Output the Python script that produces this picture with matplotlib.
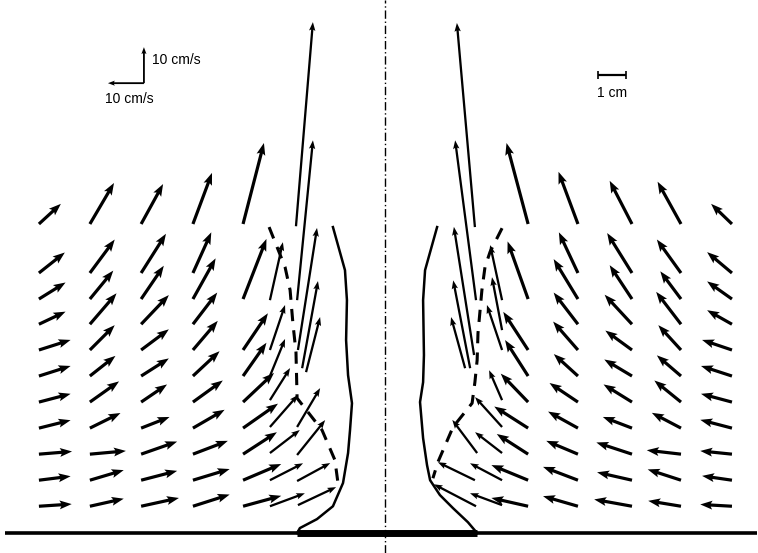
"""Velocity vector field around an impinging jet (recreated from a scanned figure)."""

import matplotlib

matplotlib.use("Agg")
import matplotlib.pyplot as plt
import numpy as np

# --- measuring grid (cm from the jet axis, cm above the wall) -----------------
grid_rows_y = [11.04, 9.29, 8.36, 7.46, 6.54, 5.61, 4.68, 3.75, 2.82, 1.89, 0.96]
left_cols_x = [-12.36, -10.54, -8.71, -6.86, -5.07]
right_cols_x = [5.11, 6.89, 8.82, 10.57, 12.39]

nan = np.nan
# velocity components in cm/s; one list per grid row (top -> bottom)
left_u = [
    [6.1, 6.7, 6.1, 5.3, 5.8],
    [7.2, 6.9, 6.9, 5.1, nan],
    [7.4, 6.5, 6.3, 6.3, 6.5],
    [7.4, 7.4, 7.7, 6.75, nan],
    [8.8, 6.9, 7.7, 6.9, 6.9],
    [8.8, 7.1, 7.7, 7.4, 6.5],
    [8.8, 8.1, 7.2, 8.3, 8.6],
    [8.8, 8.5, 7.9, 8.8, 9.7],
    [9.2, 10.0, 10.0, 9.7, 9.4],
    [8.8, 9.4, 10.0, 10.2, 10.6],
    [9.1, 9.4, 10.5, 10.2, 10.6],
]
left_v = [
    [5.6, 11.4, 11.1, 14.2, 22.5],
    [5.7, 9.3, 10.9, 11.3, nan],
    [4.6, 7.9, 9.25, 11.3, 16.7],
    [3.5, 8.6, 8.1, 8.8, nan],
    [2.8, 6.9, 5.75, 8.1, 10.2],
    [2.8, 5.6, 4.9, 6.9, 9.25],
    [2.3, 5.75, 4.9, 6.0, 8.1],
    [2.2, 4.2, 3.1, 5.1, 6.8],
    [0.75, 0.9, 3.5, 3.7, 6.1],
    [1.1, 2.8, 2.6, 3.1, 4.5],
    [0.6, 2.1, 2.3, 3.25, 2.9],
]
right_u = [
    [-6.0, -5.4, -6.2, -6.5, -5.8],
    [nan, -5.3, -6.9, -6.7, -6.9],
    [-5.7, -6.75, -6.2, -5.75, -6.9],
    [nan, -6.75, -7.6, -6.9, -6.9],
    [-6.9, -6.9, -7.4, -6.3, -8.3],
    [-6.4, -6.7, -7.7, -6.7, -8.6],
    [-7.6, -7.9, -7.9, -7.4, -8.6],
    [-9.4, -8.3, -8.1, -8.1, -8.8],
    [-8.7, -8.8, -9.9, -9.5, -8.8],
    [-10.2, -9.7, -9.7, -9.25, -8.3],
    [-10.2, -9.7, -10.5, -9.1, -8.8],
]
right_v = [
    [22.5, 14.5, 12.0, 11.75, 5.6],
    [nan, 11.3, 11.1, 9.3, 5.8],
    [16.0, 11.1, 9.4, 7.7, 4.9],
    [nan, 8.8, 8.2, 9.0, 3.9],
    [10.6, 7.9, 5.4, 6.9, 2.8],
    [10.0, 6.1, 4.6, 5.75, 2.8],
    [7.9, 5.3, 4.9, 6.0, 2.3],
    [6.0, 4.6, 3.1, 4.25, 2.3],
    [5.6, 3.7, 3.25, 1.1, 0.9],
    [4.2, 3.7, 2.2, 3.0, 1.2],
    [2.3, 2.8, 1.9, 1.5, 0.5],
]

# --- extra measurements close to the jet ---------------------------------------
inner_left_x = [-4.11, -4.11, -4.11, -4.11, -4.11, -4.11, -4.11, -4.11,
                -3.18, -3.14, -3.11, -2.96, -2.82, -3.14, -3.14, -3.14, -3.11]
inner_left_y = [8.32, 6.54, 5.61, 4.75, 3.79, 2.86, 1.89, 0.96,
                10.96, 8.32, 6.54, 5.89, 5.75, 3.79, 2.79, 1.86, 1.0]
inner_left_u = [3.6, 4.2, 4.2, 5.6, 7.8, 8.3, 9.2, 9.7,
                4.7, 4.4, 5.3, 4.4, 3.9, 6.4, 7.8, 9.2, 10.6]
inner_left_v = [16.1, 12.5, 10.3, 8.9, 8.9, 6.4, 4.7, 3.6,
                56.7, 44.4, 33.9, 24.2, 15.3, 10.8, 9.7, 5.0, 5.0]

inner_right_x = [4.18, 4.18, 4.18, 4.18, 4.18, 4.18, 4.18, 4.18,
                 3.21, 3.25, 3.18, 3.04, 2.86, 3.29, 3.21, 3.25]
inner_right_y = [8.32, 7.25, 6.54, 4.75, 3.79, 2.86, 1.89, 1.0,
                 10.93, 8.32, 6.36, 5.89, 5.89, 2.86, 1.89, 0.96]
inner_right_u = [-3.3, -2.8, -4.2, -3.6, -7.5, -7.5, -8.9, -8.9,
                 -5.0, -5.8, -5.6, -4.7, -3.9, -6.9, -10.3, -11.7]
inner_right_v = [15.3, 14.7, 12.5, 8.3, 8.3, 5.8, 4.7, 3.3,
                 56.7, 44.4, 35.6, 24.4, 14.2, 9.2, 5.0, 6.1]

# --- jet boundary (solid) and dashed locus ------------------------------------
edge_left_x = [-1.86, -1.43, -1.36, -1.39, -1.32, -1.18, -1.25, -1.32, -1.5, -1.86, -2.43, -3.04, -3.14]
edge_left_y = [10.93, 9.39, 8.32, 6.89, 5.64, 4.64, 3.68, 2.86, 1.79, 0.96, 0.5, 0.18, 0.0]
edge_right_x = [1.86, 1.43, 1.36, 1.39, 1.36, 1.25, 1.36, 1.5, 1.61, 1.96, 2.43, 2.96, 3.29]
edge_right_y = [10.93, 9.39, 8.32, 6.36, 5.39, 4.68, 3.39, 2.43, 1.89, 1.36, 0.89, 0.39, 0.0]

dash_left_x = [-4.14, -3.57, -3.39, -3.29, -3.18, -3.14, -2.25, -1.79, -1.68]
dash_left_y = [10.93, 9.5, 8.68, 7.5, 6.46, 4.82, 3.68, 2.61, 1.79]
dash_right_x = [4.18, 3.75, 3.57, 3.46, 3.32, 3.29, 3.21, 3.11, 2.43, 1.89, 1.71]
dash_right_y = [10.89, 10.04, 9.5, 8.68, 7.14, 6.18, 5.39, 4.64, 3.79, 2.54, 1.96]

REF_SPEED = 10.0   # cm/s, reference arrows
REF_LENGTH = 1.0   # cm, scale bar

PX_PER_CM = 28.0
PX_PER_SPEED = 3.6
SCALE = PX_PER_CM / PX_PER_SPEED  # (cm/s) per cm of arrow

plt.rcParams["font.family"] = ["Liberation Sans", "DejaVu Sans"]

fig = plt.figure(figsize=(7.58, 5.53), dpi=100)
ax = fig.add_axes([0, 0, 1, 1])
ax.set_xlim(-13.75, 13.32)
ax.set_ylim(-0.71, 19.04)
ax.axis("off")

qkw = dict(angles="xy", scale_units="xy", scale=SCALE, color="black",
           headwidth=2.8, headlength=3.8, headaxislength=3.3)

for cols, U, V in ((left_cols_x, left_u, left_v), (right_cols_x, right_u, right_v)):
    X, Y = np.meshgrid(cols, grid_rows_y)
    U = np.array(U)
    V = np.array(V)
    ok = np.isfinite(U)
    ax.quiver(X[ok], Y[ok], U[ok], V[ok], width=0.0042, **qkw)

ax.quiver(inner_left_x, inner_left_y, inner_left_u, inner_left_v, width=0.003, **qkw)
ax.quiver(inner_right_x, inner_right_y, inner_right_u, inner_right_v, width=0.003, **qkw)

ax.plot(edge_left_x, edge_left_y, color="black", lw=1.8)
ax.plot(edge_right_x, edge_right_y, color="black", lw=1.8)
ax.plot(dash_left_x, dash_left_y, color="black", lw=2.2, dashes=(4, 3))
ax.plot(dash_right_x, dash_right_y, color="black", lw=2.2, dashes=(4, 3))

# wall and symmetry axis
ax.plot([-13.57, 13.3], [0, 0], color="black", lw=2.6, solid_capstyle="butt")
ax.plot([edge_left_x[-1], edge_right_x[-1]], [0, 0], color="black", lw=5, solid_capstyle="butt")
ax.axvline(0, color="black", lw=1.0, linestyle=(0, (6, 2, 1, 2)))

# reference velocity arrows
ax.quiver([-8.61, -8.61], [16.07, 16.07], [0, -REF_SPEED], [REF_SPEED, 0],
          width=0.0024, **qkw)
ax.text(-8.32, 16.9, f"{REF_SPEED:.0f} cm/s", fontsize=10, va="center", ha="left")
ax.text(-9.14, 15.5, f"{REF_SPEED:.0f} cm/s", fontsize=10, va="center", ha="center")

# length scale bar
ax.errorbar([7.61 + REF_LENGTH / 2], [16.36], xerr=[REF_LENGTH / 2], color="black",
            lw=1.6, capsize=3, capthick=1.2)
ax.text(7.61 + REF_LENGTH / 2, 15.72, f"{REF_LENGTH:.0f} cm", fontsize=10,
        va="center", ha="center")

fig.savefig("out.png", dpi=100)
